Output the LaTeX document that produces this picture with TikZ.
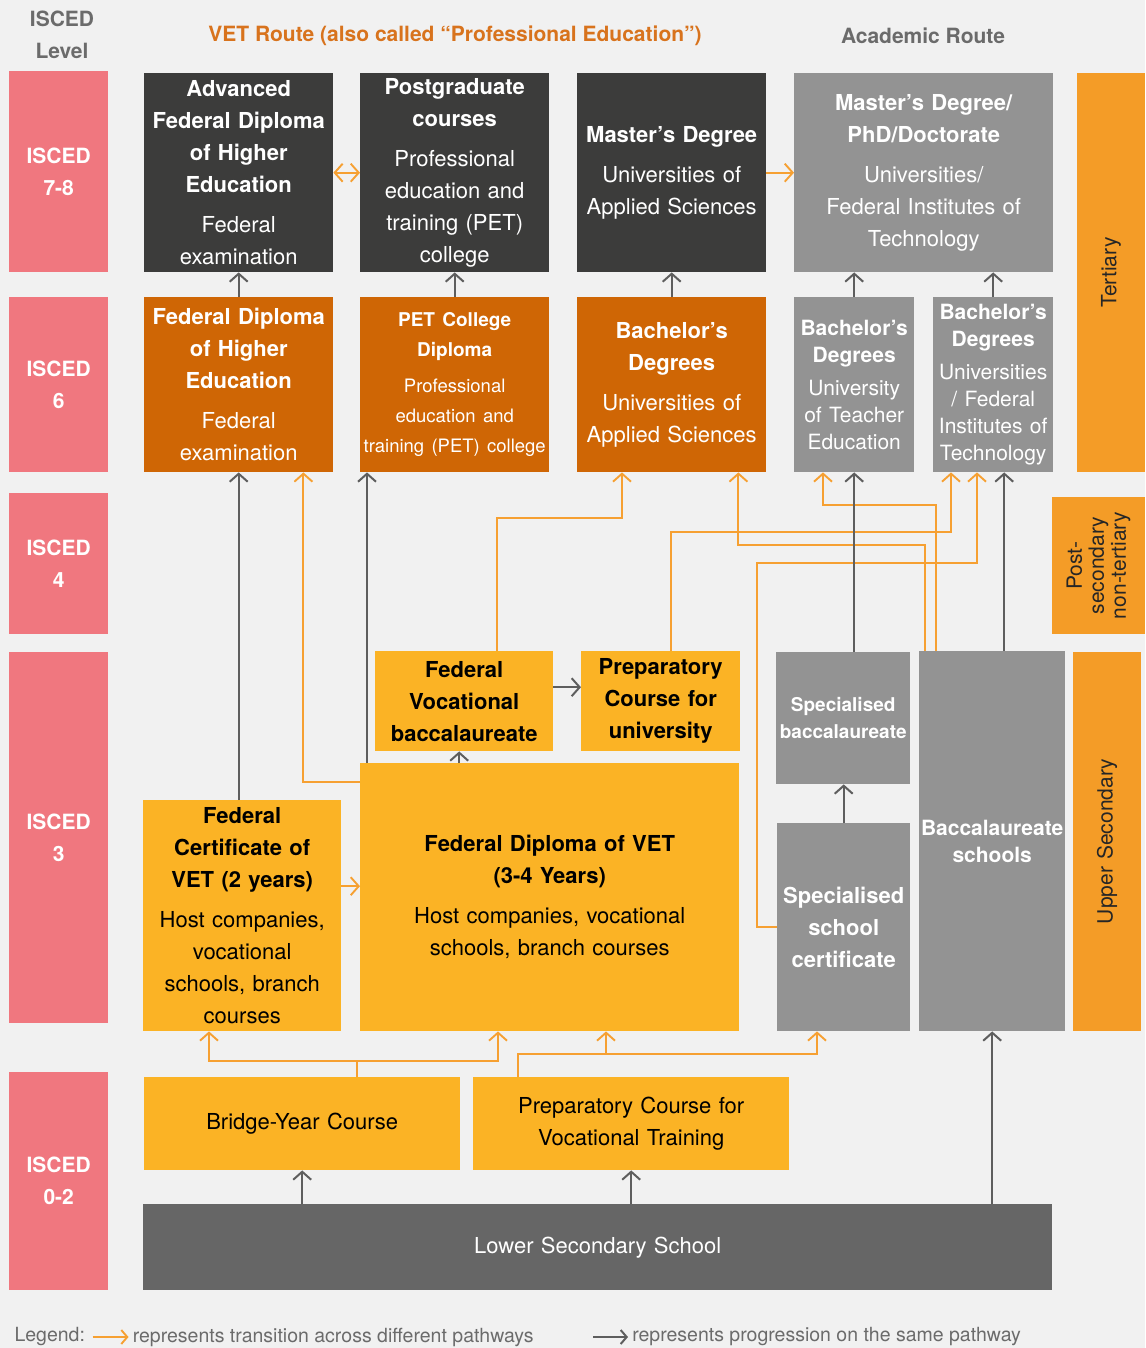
\documentclass[tikz,border=0pt]{standalone}
\usepackage{fontspec}
\setmainfont{TeX Gyre Heros}
\usetikzlibrary{arrows.meta,calc}

\definecolor{fondo}{HTML}{F1F1F1}
\definecolor{isced}{HTML}{F0777F}
\definecolor{oscuro}{HTML}{3C3C3B}
\definecolor{gris}{HTML}{939393}
\definecolor{grisosc}{HTML}{666666}
\definecolor{naranjaosc}{HTML}{CF6605}
\definecolor{amarillo}{HTML}{FBB325}
\definecolor{naranja}{HTML}{F49C27}
\definecolor{linea}{HTML}{F6A032}
\definecolor{flecha}{HTML}{5E5E5E}
\definecolor{titulo}{HTML}{D8731D}
\definecolor{textogris}{HTML}{6B6B6B}

\tikzset{
  punta/.tip={Straight Barb[length=8pt,width=18pt]},
  puntita/.tip={Straight Barb[length=6pt,width=14pt]},
}

\begin{document}
\begin{tikzpicture}[x=1pt, y=-1pt,
    caja/.style={anchor=north west, inner sep=0pt, align=center, font=\fontsize{22}{32}\selectfont},
    wh/.style 2 args={minimum width=#1pt, minimum height=#2pt, text width=#1pt},
    nivel/.style={caja, fill=isced, text=white, font=\bfseries\fontsize{21}{32}\selectfont},
    fposcuro/.style={caja, fill=oscuro, text=white},
    fpnaranja/.style={caja, fill=naranjaosc, text=white},
    fpamarillo/.style={caja, fill=amarillo, text=black},
    academ/.style={caja, fill=gris, text=white},
    lateral/.style={caja, fill=naranja, text=black!85, rotate=90, anchor=center, font=\fontsize{21}{32}\selectfont},
    cabecera/.style={font=\bfseries\fontsize{21}{32}\selectfont, align=center},
    leyenda/.style={font=\fontsize{19.5}{22}\selectfont, text=textogris},
    progresion/.style={draw=flecha, line width=2pt, -punta},
    transicion/.style={draw=linea, line width=1.9pt, -punta},
  ]
  % Definiciones
  \def\sep{8pt}
  % Fondo
  \path[use as bounding box, fill=fondo] (0,0) rectangle (1145,1348);
  % Cabeceras
  \node[cabecera, text=textogris] (hisced) at (62,35) {ISCED\\Level};
  \node[cabecera, text=titulo] (hvet) at (455,36) {VET Route (also called “Professional Education”)};
  \node[cabecera, text=textogris] (hacad) at (923,36) {Academic Route};
  % Niveles ISCED
  \node[nivel, wh={99}{201}] (n78) at (9,71) {ISCED\\7-8};
  \node[nivel, wh={99}{175}] (n6) at (9,297) {ISCED\\6};
  \node[nivel, wh={99}{141}] (n4) at (9,493) {ISCED\\4};
  \node[nivel, wh={99}{371}] (n3) at (9,652) {ISCED\\3};
  \node[nivel, wh={99}{218}] (n02) at (9,1072) {ISCED\\0-2};
  % ISCED 7-8
  \node[fposcuro, wh={189}{199}] (adv) at (144,73)
    {\bfseries Advanced\\Federal Diploma\\of Higher\\Education\\[\sep]\mdseries Federal\\examination};
  \node[fposcuro, wh={189}{199}] (pgc) at (360,73)
    {\bfseries Postgraduate\\courses\\[\sep]\mdseries Professional\\education and\\training (PET)\\college};
  \node[fposcuro, wh={189}{199}] (mas) at (577,73)
    {\bfseries Master’s Degree\\[\sep]\mdseries Universities of\\Applied Sciences};
  \node[academ, wh={259}{199}] (mphd) at (794,73)
    {\bfseries Master’s Degree/\\PhD/Doctorate\\[\sep]\mdseries Universities/\\Federal Institutes of\\Technology};
  % ISCED 6
  \node[fpnaranja, wh={189}{175}] (fdhe) at (144,297)
    {\bfseries Federal Diploma\\of Higher\\Education\\[\sep]\mdseries Federal\\examination};
  \node[fpnaranja, wh={189}{175}] (petd) at (360,297)
    {\fontsize{19}{30}\selectfont\bfseries PET College\\Diploma\\[6pt]\mdseries\fontsize{18.5}{30}\selectfont
     Professional\\education and\\training (PET) college\par};
  \node[fpnaranja, wh={189}{175}] (bachuas) at (577,297)
    {\bfseries Bachelor’s\\Degrees\\[\sep]\mdseries Universities of\\Applied Sciences};
  \node[academ, wh={120}{175}] (bachpht) at (794,297)
    {\fontsize{21}{27}\selectfont\bfseries Bachelor’s\\Degrees\\[6pt]\mdseries University\\of Teacher\\Education\par};
  \node[academ, wh={120}{175}] (bachuni) at (933,297)
    {\fontsize{21}{27}\selectfont\bfseries Bachelor’s\\Degrees\\[6pt]\mdseries Universities\\/ Federal\\Institutes of\\Technology\par};
  % ISCED 3
  \node[fpamarillo, wh={178}{100}] (fvb) at (375,651)
    {\bfseries Federal\\Vocational\\baccalaureate};
  \node[fpamarillo, wh={159}{100}] (prepuni) at (581,651)
    {\bfseries Preparatory\\Course for\\university};
  \node[fpamarillo, wh={198}{231}] (fcvet) at (143,800)
    {\bfseries Federal\\Certificate of\\VET (2 years)\\[\sep]\mdseries Host companies,\\vocational\\schools, branch\\courses};
  \node[fpamarillo, wh={379}{268}] (fdvet) at (360,763)
    {\bfseries Federal Diploma of VET\\(3-4 Years)\\[\sep]\mdseries Host companies, vocational\\schools, branch courses};
  \node[academ, wh={134}{132}] (specbac) at (776,652)
    {\fontsize{19}{27}\selectfont\bfseries Specialised\\baccalaureate\par};
  \node[academ, wh={133}{208}] (specsch) at (777,823)
    {\bfseries Specialised\\school\\certificate};
  \node[academ, wh={146}{380}] (baccsch) at (919,651)
    {\fontsize{21}{27}\selectfont\bfseries Baccalaureate\\schools\par};
  % ISCED 0-2
  \node[fpamarillo, wh={316}{93}] (bridge) at (144,1077) {Bridge-Year Course};
  \node[fpamarillo, wh={316}{93}] (prepvoc) at (473,1077) {Preparatory Course for\\Vocational Training};
  \node[caja, fill=grisosc, text=white, wh={909}{86}] (lowsec) at (143,1204) {Lower Secondary School};
  % Bloques laterales
  \node[lateral, wh={399}{68}] (tert) at (1111,272.5) {Tertiary};
  \node[lateral, wh={137}{93}, font=\fontsize{21}{22}\selectfont] (postsec) at (1098.5,565.5)
    {Post-\\secondary\\non-tertiary};
  \node[lateral, wh={379}{68}] (upsec) at (1107,841.5) {Upper Secondary};

  % Transiciones entre rutas
  \draw[transicion, punta-punta] (adv.east) -- (pgc.west);
  \draw[transicion] (mas.east) -- (mphd.west);
  \coordinate (fcve) at ([yshift=29.5pt]fcvet.east);
  \draw[transicion] (fcve) -- (fcve -| fdvet.west);
  \coordinate (vetl) at ([yshift=-19pt]fdvet.north west);
  \coordinate (hex) at ([xshift=-30pt]fdhe.south east);
  \draw[transicion] (vetl) -| (hex);
  \coordinate (fvbx) at ([xshift=122pt]fvb.north west);
  \coordinate (uas1) at ([xshift=45pt]bachuas.south west);
  \draw[transicion] (fvbx) -- ++(0,-133) -| (uas1);
  \coordinate (prepx) at ([xshift=90pt]prepuni.north west);
  \coordinate (uni1) at ([xshift=18pt]bachuni.south west);
  \draw[transicion] (prepx) -- ++(0,-119) -| (uni1);
  \coordinate (bac1) at ([xshift=6pt]baccsch.north west);
  \coordinate (uas2) at ([xshift=-28pt]bachuas.south east);
  \draw[transicion] (bac1) -- ++(0,-106) -| (uas2);
  \coordinate (bac2) at ([xshift=17pt]baccsch.north west);
  \coordinate (pht1) at ([xshift=29pt]bachpht.south west);
  \draw[transicion] (bac2) -- ++(0,-146) -| (pht1);
  \coordinate (espl) at ([yshift=-104pt]specsch.north west);
  \coordinate (uni2) at ([xshift=44pt]bachuni.south west);
  \draw[transicion] (espl) -- ++(-20,0) -- ++(0,-364) -| (uni2);
  % Desde los cursos puente
  \coordinate (puente) at ([xshift=213pt]bridge.north west);
  \coordinate (fcv1) at ([xshift=66pt]fcvet.south west);
  \coordinate (vet1) at ([xshift=138pt]fdvet.south west);
  \draw[transicion] (puente) -- ++(0,-16) -| (fcv1);
  \draw[transicion] (puente) ++(0,-16) -| (vet1);
  \coordinate (prepv) at ([xshift=45pt]prepvoc.north west);
  \coordinate (vet2) at ([xshift=246pt]fdvet.south west);
  \coordinate (esp2) at ([xshift=40pt]specsch.south west);
  \draw[transicion] (prepv) -- ++(0,-23) -| (esp2);
  \draw[transicion] (prepv) ++(0,-23) -| (vet2);

  % Progresiones en la misma ruta
  \draw[progresion] (fdhe.north) -- (adv.south);
  \draw[progresion] (petd.north) -- (pgc.south);
  \draw[progresion] (bachuas.north) -- (mas.south);
  \draw[progresion] (bachpht.north) -- (bachpht.north |- mphd.south);
  \draw[progresion] (bachuni.north) -- (bachuni.north |- mphd.south);
  \draw[progresion] (fdhe.south |- fcvet.north) -- (fdhe.south);
  \coordinate (petx) at ([xshift=7pt]petd.south west);
  \draw[progresion] (petx |- fdvet.north) -- (petx);
  \coordinate (fvbs) at ([xshift=-5pt]fvb.south);
  \draw[progresion] (fvbs |- fdvet.north) -- (fvbs);
  \coordinate (fvbe) at ([yshift=14pt]fvb.east);
  \draw[progresion] (fvbe) -- (fvbe -| prepuni.west);
  \draw[progresion] (bachpht.south |- specbac.north) -- (bachpht.south);
  \draw[progresion] (specsch.north) -- (specsch.north |- specbac.south);
  \coordinate (unix) at ([xshift=11pt]bachuni.south);
  \draw[progresion] (unix |- baccsch.north) -- (unix);
  \draw[progresion] (bridge.south |- lowsec.north) -- (bridge.south);
  \draw[progresion] (prepvoc.south |- lowsec.north) -- (prepvoc.south);
  \draw[progresion] (baccsch.south |- lowsec.north) -- (baccsch.south);

  % Leyenda
  \node[leyenda, anchor=west] (ley) at (11,1337) {Legend:};
  \draw[transicion, -puntita] ([xshift=4pt]ley.east) -- ++(36,0)
    node[leyenda, right] (ltrans) {represents transition across different pathways};
  \coordinate (lgris) at (593,1337);
  \draw[progresion, -puntita] (lgris) -- ++(35,0)
    node[leyenda, right] (lprog) {represents progression on the same pathway};
\end{tikzpicture}
\end{document}
